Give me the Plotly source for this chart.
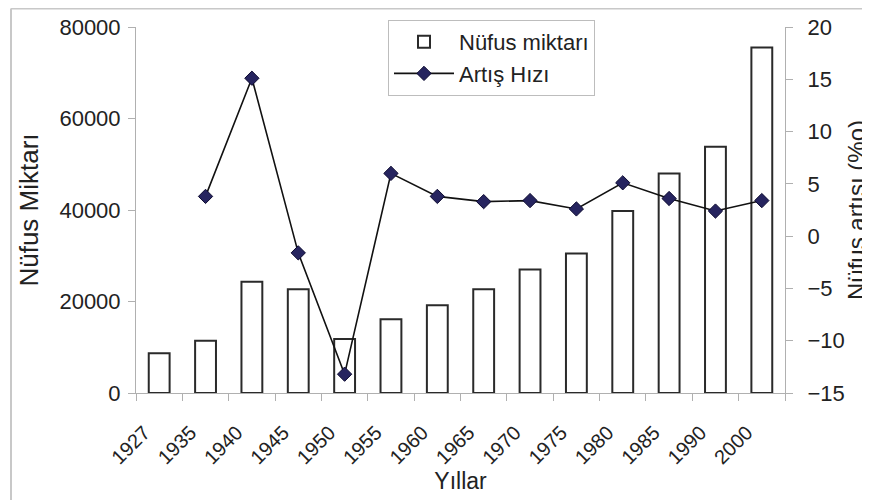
import plotly.graph_objects as go

years = ["1927", "1935", "1940", "1945", "1950", "1955", "1960", "1965",
         "1970", "1975", "1980", "1985", "1990", "2000"]
nufus = [8700, 11400, 24300, 22700, 11800, 16100, 19200, 22700,
         27000, 30500, 39800, 48000, 53800, 75500]
artis = [None, 3.8, 15.1, -1.6, -13.2, 6.0, 3.8, 3.3,
         3.4, 2.6, 5.1, 3.6, 2.4, 3.4]

FONT = "Liberation Sans, Arial, sans-serif"
TXT = "#222222"
OFF = 8                      # page body margin of the html page
W, H = 870 - OFF, 500 - OFF
# plot area in page pixels: x 136..785, y 27..393
L = 136 - OFF
T = 27 - OFF
R = W - (785 - OFF)
B = H - (393 - OFF)
pw, ph = W - L - R, H - T - B


def px(x):                   # page pixel -> paper x
    return (x - OFF - L) / pw


def py(y):                   # page pixel -> paper y
    return (H - B - (y - OFF)) / ph


fig = go.Figure()
fig.add_trace(go.Bar(
    x=years, y=nufus, name="Nüfus miktarı",
    marker=dict(color="white", line=dict(color="#2a2a2a", width=2)),
    width=0.45,
))
fig.add_trace(go.Scatter(
    x=years, y=artis, name="Artış Hızı", yaxis="y2",
    mode="lines+markers",
    line=dict(color="#111111", width=1.6),
    marker=dict(symbol="diamond", size=11, color="#26245f",
                line=dict(color="#0c0a30", width=1)),
    connectgaps=False,
))

axis_col = "#b0b0b0"
fig.update_layout(
    width=W, height=H,
    margin=dict(l=L, r=R, t=T, b=B, autoexpand=False),
    paper_bgcolor="white", plot_bgcolor="white",
    font=dict(family=FONT, size=20, color=TXT),
    showlegend=True,
    legend=dict(
        x=px(388), y=py(20), xanchor="left", yanchor="top",
        bgcolor="white", bordercolor="#bdbdbd", borderwidth=1,
        font=dict(size=22, family=FONT, color=TXT),
        itemwidth=60, tracegroupgap=0,
    ),
    xaxis=dict(
        type="category", tickangle=-45, tickson="boundaries",
        ticks="outside", ticklen=7, tickcolor=axis_col,
        showline=True, linecolor=axis_col, linewidth=1,
        showgrid=False, zeroline=False,
        ticklabelshift=-15, ticklabelstandoff=19,
        tickfont=dict(size=20, family=FONT, color=TXT),
        title=dict(text="Yıllar", standoff=3,
                   font=dict(size=23, family=FONT, color=TXT)),
        range=[-0.5, len(years) - 0.5],
        automargin=False,
    ),
    yaxis=dict(
        range=[0, 80000], dtick=20000, tickformat="d",
        ticks="outside", ticklen=7, tickcolor=axis_col,
        showline=True, linecolor=axis_col, linewidth=1,
        showgrid=False, zeroline=False,
        ticklabelstandoff=3,
        tickfont=dict(size=22, family=FONT, color=TXT),
        title=dict(text="Nüfus Miktarı", standoff=13,
                   font=dict(size=26, family=FONT, color=TXT)),
        automargin=False,
    ),
    yaxis2=dict(
        overlaying="y", side="right",
        range=[-15, 20], dtick=5,
        ticks="outside", ticklen=7, tickcolor=axis_col,
        showline=True, linecolor=axis_col, linewidth=1,
        showgrid=False, zeroline=False,
        ticklabelstandoff=10,
        tickfont=dict(size=22, family=FONT, color=TXT),
        title=dict(text="Nüfus artışı (%o)", standoff=9,
                   font=dict(size=24, family=FONT, color=TXT)),
        automargin=False,
    ),
    shapes=[
        dict(type="line", xref="paper", yref="paper",
             x0=px(11), x1=px(880), y0=py(8.5), y1=py(8.5),
             line=dict(color="#c8c8c8", width=2)),
        dict(type="line", xref="paper", yref="paper",
             x0=px(11), x1=px(11), y0=py(8.5), y1=py(510),
             line=dict(color="#c8c8c8", width=2)),
    ],
)

fig.write_html("out.html")
